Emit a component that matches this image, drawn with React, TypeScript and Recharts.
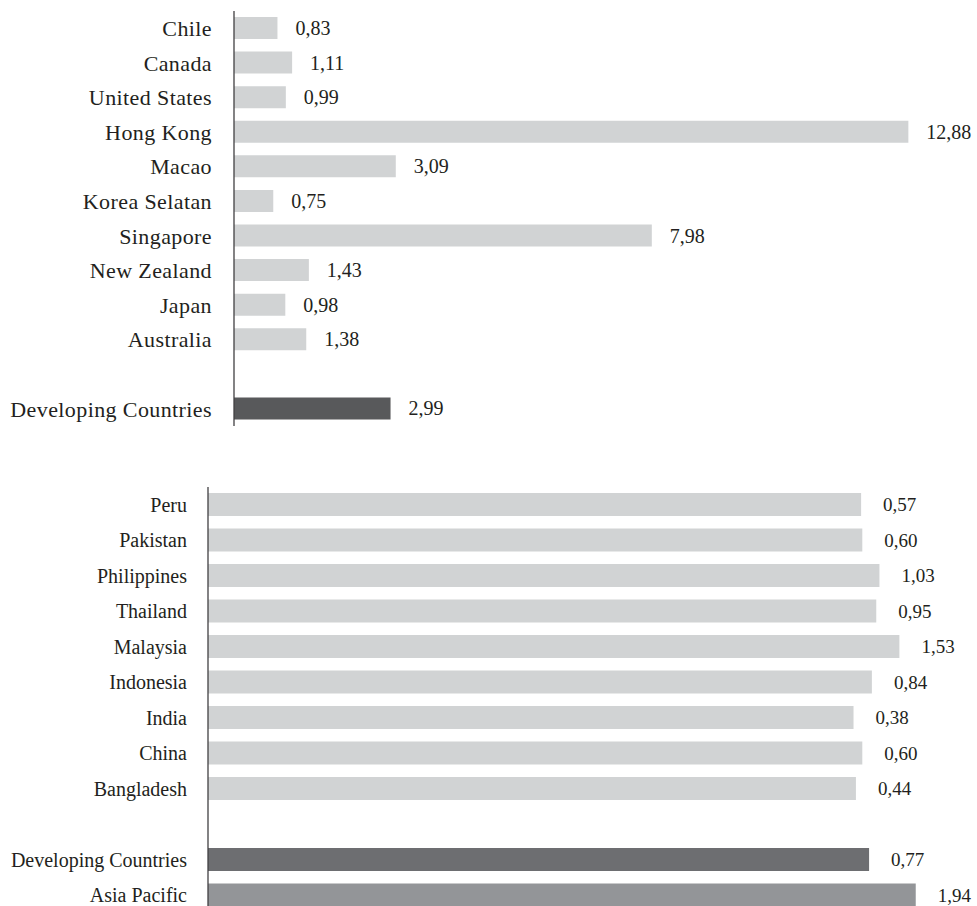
import React from 'react';
import { Bar, BarChart, Cell, LabelList, XAxis, YAxis } from 'recharts';

// top panel
const topCategories = [
  'Chile',
  'Canada',
  'United States',
  'Hong Kong',
  'Macao',
  'Korea Selatan',
  'Singapore',
  'New Zealand',
  'Japan',
  'Australia',
  '',
  'Developing Countries',
];
const topValues = [0.83, 1.11, 0.99, 12.88, 3.09, 0.75, 7.98, 1.43, 0.98, 1.38, null, 2.99];
const topColors = ['#d1d3d4', '#d1d3d4', '#d1d3d4', '#d1d3d4', '#d1d3d4', '#d1d3d4', '#d1d3d4', '#d1d3d4', '#d1d3d4', '#d1d3d4', '#d1d3d4', '#58595b'];

// bottom panel
const bottomCategories = [
  'Peru',
  'Pakistan',
  'Philippines',
  'Thailand',
  'Malaysia',
  'Indonesia',
  'India',
  'China',
  'Bangladesh',
  '',
  'Developing Countries',
  'Asia Pacific',
];
const bottomValues = [0.57, 0.6, 1.03, 0.95, 1.53, 0.84, 0.38, 0.6, 0.44, null, 0.77, 1.94];
const bottomColors = ['#d1d3d4', '#d1d3d4', '#d1d3d4', '#d1d3d4', '#d1d3d4', '#d1d3d4', '#d1d3d4', '#d1d3d4', '#d1d3d4', '#d1d3d4', '#6d6e71', '#939598'];

// the bottom panel in the source is drawn on a shifted axis, bars start at its left edge
const BOTTOM_MIN = -15.81;
const BOTTOM_MAX = 3;

const TEXT = '#231f20';
const FONT = '"Liberation Serif", "Times New Roman", serif';

const topData = topCategories.map((name, i) => ({ name, value: topValues[i] }));
const bottomData = bottomCategories.map((name, i) => ({ name, value: bottomValues[i] }));

const fmt = (v: number) => v.toFixed(2).replace('.', ',');

const makeLabel = (offset: number, size: number) => (props: any) => {
  const { x, y, width, height, value } = props;
  if (value == null) return null;
  return (
    <text
      x={Number(x) + Number(width) + offset}
      y={Number(y) + Number(height) / 2}
      dominantBaseline="central"
      textAnchor="start"
      fill={TEXT}
      fontFamily={FONT}
      fontSize={size}
    >
      {fmt(Number(value))}
    </text>
  );
};

const App: React.FC = () => {
  return (
    <div
      style={{
        position: 'absolute',
        left: 0,
        top: 0,
        width: 977,
        height: 906,
        overflow: 'hidden',
        background: '#fff',
      }}
    >
      <div style={{ position: 'absolute', left: 0, top: 0 }}>
        <BarChart
          width={977}
          height={430}
          data={topData}
          layout="vertical"
          margin={{ top: 11, right: 10, bottom: 4, left: 0 }}
        >
          <XAxis type="number" hide domain={[0, 14]} allowDataOverflow />
          <YAxis
            type="category"
            dataKey="name"
            width={234}
            tickLine={false}
            tickMargin={16}
            axisLine={{ stroke: '#414042', strokeWidth: 1.3 }}
            tick={{ fill: TEXT, fontFamily: FONT, fontSize: 22, letterSpacing: 0.4 }}
            interval={0}
          />
          <Bar dataKey="value" barSize={22} isAnimationActive={false}>
            {topData.map((d, i) => (
              <Cell key={d.name + i} fill={topColors[i]} />
            ))}
            <LabelList dataKey="value" content={makeLabel(18, 20)} />
          </Bar>
        </BarChart>
      </div>
      <div style={{ position: 'absolute', left: 0, top: 470 }}>
        <BarChart
          width={977}
          height={443}
          data={bottomData}
          layout="vertical"
          margin={{ top: 17, right: 19, bottom: 0, left: 0 }}
        >
          <XAxis type="number" hide domain={[BOTTOM_MIN, BOTTOM_MAX]} allowDataOverflow />
          <YAxis
            type="category"
            dataKey="name"
            width={208}
            tickLine={false}
            tickMargin={15}
            axisLine={{ stroke: '#414042', strokeWidth: 1.3 }}
            tick={{ fill: TEXT, fontFamily: FONT, fontSize: 20 }}
            interval={0}
          />
          <Bar
            dataKey={(d: any) => (d.value == null ? null : [BOTTOM_MIN, d.value])}
            barSize={23}
            isAnimationActive={false}
          >
            {bottomData.map((d, i) => (
              <Cell key={d.name + i} fill={bottomColors[i]} />
            ))}
            <LabelList dataKey="value" content={makeLabel(22, 19)} />
          </Bar>
        </BarChart>
      </div>
    </div>
  );
};

export default App;
